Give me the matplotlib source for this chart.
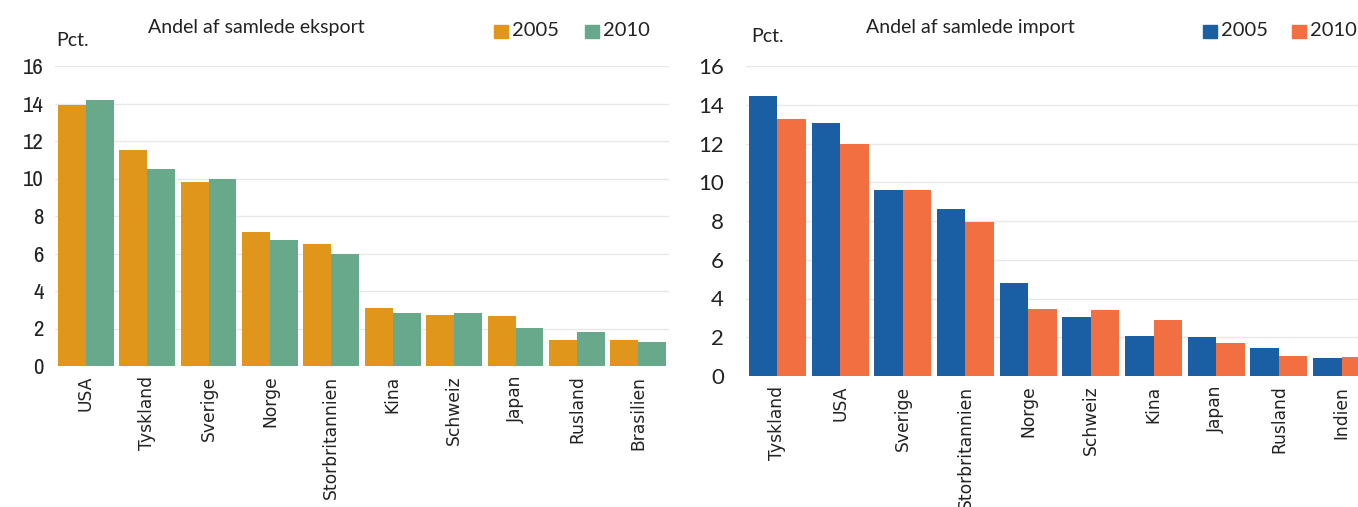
import matplotlib
matplotlib.use("Agg")
import matplotlib.pyplot as plt
import numpy as np
from matplotlib.patches import Rectangle
from matplotlib import font_manager

exp_countries = ["USA", "Tyskland", "Sverige", "Norge", "Storbritannien",
                 "Kina", "Schweiz", "Japan", "Rusland", "Brasilien"]
exp_2005 = [13.9, 11.5, 9.8, 7.15, 6.5, 3.1, 2.7, 2.65, 1.4, 1.4]
exp_2010 = [14.2, 10.5, 9.95, 6.7, 5.95, 2.85, 2.85, 2.05, 1.8, 1.3]

imp_countries = ["Tyskland", "USA", "Sverige", "Storbritannien", "Norge",
                 "Schweiz", "Kina", "Japan", "Rusland", "Indien"]
imp_2005 = [14.45, 13.05, 9.6, 8.6, 4.8, 3.05, 2.05, 2.0, 1.45, 0.95]
imp_2010 = [13.25, 11.95, 9.6, 7.95, 3.45, 3.4, 2.9, 1.7, 1.05, 1.0]

years = ["2005", "2010"]
yticks = [0, 2, 4, 6, 8, 10, 12, 14, 16]

names = sorted({f.name for f in font_manager.fontManager.ttflist})
cond = [n for n in names if "Narrow" in n or "Condensed" in n]
NARROW = cond[0] if cond else "DejaVu Sans"
HUM = ["Lato", "DejaVu Sans"]
TXT = "#222222"

fig = plt.figure(figsize=(13.58, 5.07), dpi=100)

def panel(rect, cats, v1, v2, c1, c2, title, title_x, pct_xy, leg_x, ypad, yfont, ysize):
    ax = fig.add_axes(rect)
    x = np.arange(len(cats))
    w = 0.455
    ax.bar(x - w / 2, v1, width=w, color=c1, zorder=2)
    ax.bar(x + w / 2, v2, width=w, color=c2, zorder=2)
    ax.set_xlim(-0.5, len(cats) - 0.5)
    ax.set_ylim(0, 16)
    ax.set_yticks(yticks)
    ax.set_yticklabels([str(t) for t in yticks], family=yfont, stretch="condensed",
                       fontsize=ysize, color=TXT)
    ax.set_xticks(x)
    ax.set_xticklabels(cats, rotation=90, fontsize=12.3, color=TXT, family="DejaVu Sans")
    ax.tick_params(length=0, pad=7)
    ax.tick_params(axis="y", pad=ypad)
    for s in ax.spines.values():
        s.set_visible(False)
    ax.grid(axis="y", color="#e8e8e8", linewidth=1, zorder=0)
    ax.set_axisbelow(True)
    fig.text(title_x / 1358, 1 - 27 / 507, title, family=HUM, fontsize=14,
             va="center", color=TXT)
    fig.text(pct_xy[0] / 1358, 1 - pct_xy[1] / 507, "Pct.", family=HUM, fontsize=14,
             va="center", color=TXT)
    for i, (lab, c) in enumerate(zip(years, [c1, c2])):
        lx = leg_x[i]
        fig.patches.append(Rectangle((lx / 1358, 1 - 38 / 507), 14 / 1358, 13 / 507,
                                     transform=fig.transFigure, color=c, figure=fig))
        fig.text((lx + 18) / 1358, 1 - 31 / 507, lab, family=HUM,
                 fontsize=14.5, va="center", color=TXT)
    return ax

panel([55 / 1358, 1 - 366 / 507, 614 / 1358, 300 / 507], exp_countries, exp_2005, exp_2010,
      "#E0961A", "#67A98A", "Andel af samlede eksport", 148, (56, 41), [494, 585], 8,
      NARROW, 16.5)
panel([746 / 1358, 1 - 376 / 507, 627 / 1358, 310 / 507], imp_countries, imp_2005, imp_2010,
      "#1A5EA4", "#F26F42", "Andel af samlede import", 866, (751, 37), [1203, 1292], 16,
      HUM, 16)

fig.savefig("out.png", dpi=100)
